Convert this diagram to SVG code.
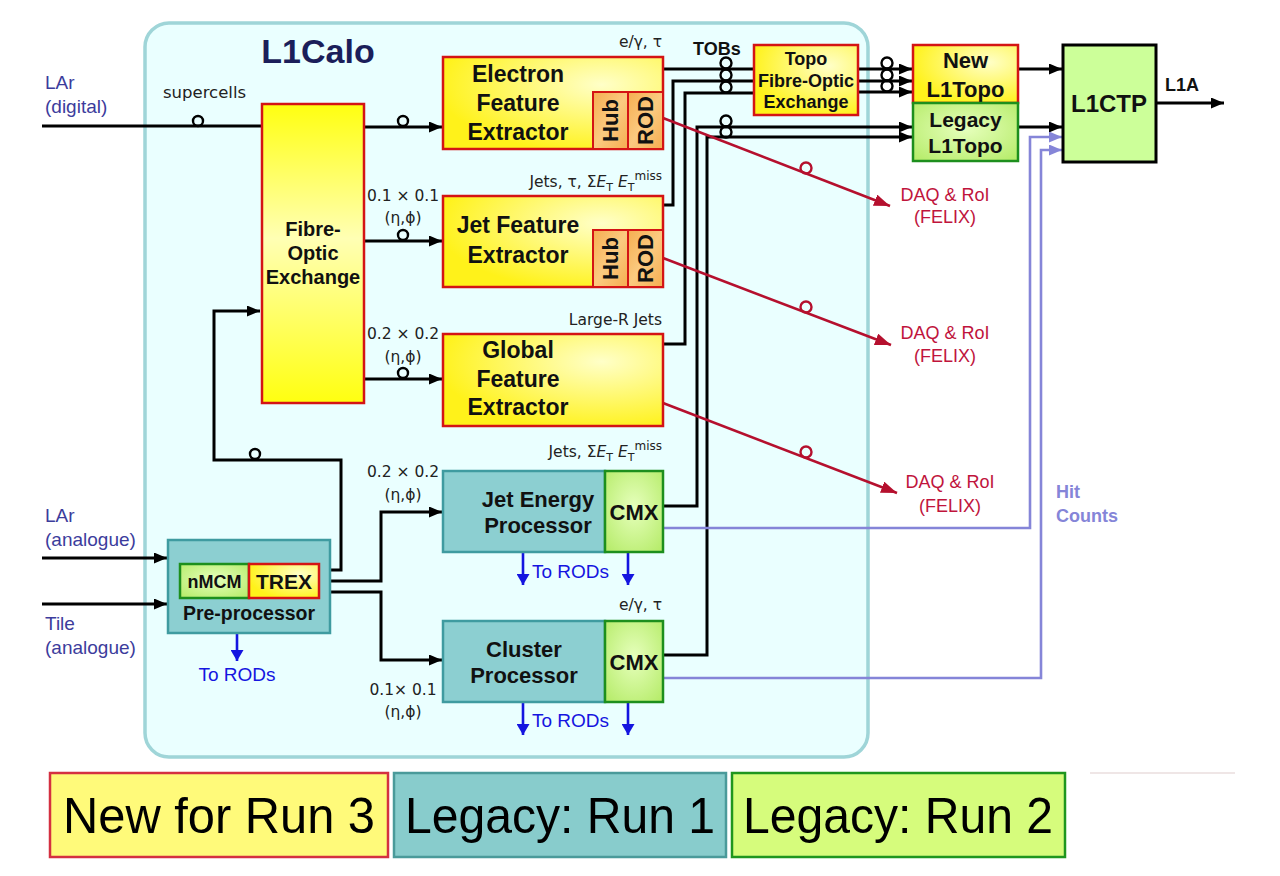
<svg xmlns="http://www.w3.org/2000/svg" width="1280" height="876" viewBox="0 0 1280 876">
<defs>
<style>
.lbl{font-family:"DejaVu Sans",sans-serif;font-size:15.5px;fill:#222}
.inp{font-family:"Liberation Sans",Arial,sans-serif;font-size:19px;fill:#3c3c9c}
.bx{font-family:"Liberation Sans",Arial,sans-serif;font-weight:bold;fill:#111;text-anchor:middle}
.daq{font-family:"Liberation Sans",Arial,sans-serif;font-size:18px;fill:#c0143c;text-anchor:middle}
.rods{font-family:"Liberation Sans",Arial,sans-serif;font-size:19px;fill:#1515e0}
.ln{fill:none;stroke:#000;stroke-width:3}
.red{fill:none;stroke:#b5102e;stroke-width:2.6}
.pur{fill:none;stroke:#8585d8;stroke-width:2.6}
.blu{fill:none;stroke:#1515e0;stroke-width:2.6}
.ck{fill:none;stroke:#000;stroke-width:2.4}
.cr{fill:none;stroke:#b5102e;stroke-width:2.4}
.ybox{stroke:#d41414;stroke-width:2.5}
.tbox{fill:#8ccfd1;stroke:#3f9ba0;stroke-width:2.5}
.gbox{fill:url(#gg);stroke:#1d8f1d;stroke-width:2.5}
.obox{fill:url(#go);stroke:#d41414;stroke-width:2}
.leg{font-family:"Liberation Sans",Arial,sans-serif;font-size:50px;fill:#000;text-anchor:middle}
</style>
<linearGradient id="gfox" x1="0" y1="0" x2="0" y2="1">
<stop offset="0" stop-color="#ffff10"/><stop offset="0.45" stop-color="#ffffb4"/><stop offset="1" stop-color="#ffff10"/>
</linearGradient>
<radialGradient id="gy" cx="0.72" cy="0.3" r="0.75">
<stop offset="0" stop-color="#ffffc8"/><stop offset="1" stop-color="#fff21a"/>
</radialGradient>
<radialGradient id="gg" cx="0.5" cy="0.45" r="0.7">
<stop offset="0" stop-color="#e6ffbc"/><stop offset="1" stop-color="#b6ec6a"/>
</radialGradient>
<linearGradient id="go" x1="0" y1="0" x2="1" y2="1">
<stop offset="0" stop-color="#f5ad50"/><stop offset="0.5" stop-color="#fbca80"/><stop offset="1" stop-color="#f5ad50"/>
</linearGradient>
<marker id="ak" markerWidth="13" markerHeight="11" refX="13" refY="5.5" orient="auto" markerUnits="userSpaceOnUse"><path d="M0,0 L13,5.5 L0,11 z" fill="#000"/></marker>
<marker id="ar" markerWidth="16" markerHeight="12" refX="16" refY="6" orient="auto" markerUnits="userSpaceOnUse"><path d="M0,0 L16,6 L0,12 z" fill="#b5102e"/></marker>
<marker id="ap" markerWidth="13" markerHeight="11" refX="13" refY="5.5" orient="auto" markerUnits="userSpaceOnUse"><path d="M0,0 L13,5.5 L0,11 z" fill="#8585d8"/></marker>
<marker id="ab" markerWidth="11" markerHeight="13" refX="11" refY="6.5" orient="auto" markerUnits="userSpaceOnUse"><path d="M0,0 L11,6.5 L0,13 z" fill="#1515e0"/></marker>
</defs>
<rect width="1280" height="876" fill="#fff"/>

<g id="l1calo">
<rect x="145" y="23" width="723" height="734" rx="24" fill="#eaffff" stroke="#9fd5d8" stroke-width="3.5"/>
<text x="318" y="63" class="bx" style="font-size:34px;fill:#1b1e5a">L1Calo</text>
</g>

<g id="inputs">
<text x="45" y="89" class="inp">LAr</text>
<text x="45" y="113" class="inp">(digital)</text>
<text x="45" y="522" class="inp">LAr</text>
<text x="45" y="546" class="inp">(analogue)</text>
<text x="45" y="630" class="inp">Tile</text>
<text x="45" y="654" class="inp">(analogue)</text>
</g>

<g id="labels">
<text x="163" y="98" class="lbl" style="font-size:16.5px">supercells</text>
<text x="403" y="201" class="lbl" text-anchor="middle">0.1 × 0.1</text>
<text x="403" y="223" class="lbl" text-anchor="middle">(η,ϕ)</text>
<text x="403" y="339" class="lbl" text-anchor="middle">0.2 × 0.2</text>
<text x="403" y="362" class="lbl" text-anchor="middle">(η,ϕ)</text>
<text x="403" y="477" class="lbl" text-anchor="middle">0.2 × 0.2</text>
<text x="403" y="500" class="lbl" text-anchor="middle">(η,ϕ)</text>
<text x="403" y="695" class="lbl" text-anchor="middle">0.1× 0.1</text>
<text x="403" y="717" class="lbl" text-anchor="middle">(η,ϕ)</text>
<text x="662" y="47" class="lbl" text-anchor="end">e/γ, τ</text>
<text x="662" y="187" class="lbl" text-anchor="end">Jets, τ, Σ<tspan font-style="italic">E</tspan><tspan font-size="11" dy="4">T</tspan><tspan dy="-4"> </tspan><tspan font-style="italic">E</tspan><tspan font-size="11" dy="4">T</tspan><tspan font-size="12" dy="-11">miss</tspan></text>
<text x="662" y="325" class="lbl" text-anchor="end">Large-R Jets</text>
<text x="662" y="457" class="lbl" text-anchor="end">Jets, Σ<tspan font-style="italic">E</tspan><tspan font-size="11" dy="4">T</tspan><tspan dy="-4"> </tspan><tspan font-style="italic">E</tspan><tspan font-size="11" dy="4">T</tspan><tspan font-size="12" dy="-11">miss</tspan></text>
<text x="662" y="610" class="lbl" text-anchor="end">e/γ, τ</text>
<text x="693" y="55" class="bx" style="font-size:18px;text-anchor:start">TOBs</text>
<text x="1165" y="91" class="bx" style="font-size:18px;text-anchor:start">L1A</text>
<text x="1056" y="498" class="bx" style="font-size:18px;text-anchor:start;fill:#8585d8">Hit</text>
<text x="1056" y="522" class="bx" style="font-size:18px;text-anchor:start;fill:#8585d8">Counts</text>
<text x="945" y="201" class="daq">DAQ &amp; RoI</text>
<text x="945" y="223" class="daq">(FELIX)</text>
<text x="945" y="339" class="daq">DAQ &amp; RoI</text>
<text x="945" y="362" class="daq">(FELIX)</text>
<text x="950" y="488" class="daq">DAQ &amp; RoI</text>
<text x="950" y="512" class="daq">(FELIX)</text>
<text x="237" y="681" class="rods" text-anchor="middle">To RODs</text>
<text x="532" y="578" class="rods">To RODs</text>
<text x="532" y="727" class="rods">To RODs</text>
</g>

<g id="connectors">
<!-- inputs -->
<path class="ln" d="M42,126 H262"/>
<circle class="ck" cx="198" cy="121" r="5"/>
<path class="ln" d="M42,558 H167" marker-end="url(#ak)"/>
<path class="ln" d="M42,604 H167" marker-end="url(#ak)"/>
<!-- FOX to FEs -->
<path class="ln" d="M364,127 H442" marker-end="url(#ak)"/>
<circle class="ck" cx="403" cy="121" r="5"/>
<path class="ln" d="M364,241 H442" marker-end="url(#ak)"/>
<circle class="ck" cx="403" cy="235" r="5"/>
<path class="ln" d="M364,379 H442" marker-end="url(#ak)"/>
<circle class="ck" cx="403" cy="373" r="5"/>
<!-- TREX outputs -->
<path class="ln" d="M319,570 H341 V460 H214 V311 H260" marker-end="url(#ak)"/>
<circle class="ck" cx="255" cy="454" r="5"/>
<path class="ln" d="M319,581 H381 V512 H442" marker-end="url(#ak)"/>
<path class="ln" d="M319,592 H381 V660 H442" marker-end="url(#ak)"/>
<!-- TOBs -->
<path class="ln" d="M663,69 H754"/>
<path class="ln" d="M663,205 H673 V81 H754"/>
<path class="ln" d="M663,344 H685 V93 H754"/>
<path class="ln" d="M663,506 H697 V127 H912" marker-end="url(#ak)"/>
<path class="ln" d="M663,655 H707 V137 H912" marker-end="url(#ak)"/>
<circle class="ck" cx="726" cy="63" r="5.5"/>
<circle class="ck" cx="726" cy="75" r="5.5"/>
<circle class="ck" cx="726" cy="87" r="5.5"/>
<circle class="ck" cx="726" cy="121" r="5.5"/>
<circle class="ck" cx="726" cy="132" r="5.5"/>
<path class="ln" d="M858,69 H912" marker-end="url(#ak)"/>
<path class="ln" d="M858,81 H912" marker-end="url(#ak)"/>
<path class="ln" d="M858,92 H912" marker-end="url(#ak)"/>
<circle class="ck" cx="887" cy="63" r="5.5"/>
<circle class="ck" cx="887" cy="75" r="5.5"/>
<circle class="ck" cx="887" cy="86" r="5.5"/>
<path class="ln" d="M1018,69 H1062" marker-end="url(#ak)"/>
<path class="ln" d="M1018,127 H1062" marker-end="url(#ak)"/>
<path class="ln" d="M1156,103 H1224" marker-end="url(#ak)"/>
<!-- hit counts -->
<path class="pur" d="M663,528 H1030 V137 H1062" marker-end="url(#ap)"/>
<path class="pur" d="M663,678 H1041 V150 H1062" marker-end="url(#ap)"/>
<!-- DAQ -->
<path class="red" d="M663,118 L890,206" marker-end="url(#ar)"/>
<circle class="cr" cx="806" cy="168" r="5.5"/>
<path class="red" d="M663,258 L891,345" marker-end="url(#ar)"/>
<circle class="cr" cx="806" cy="307" r="5.5"/>
<path class="red" d="M663,403 L897,493" marker-end="url(#ar)"/>
<circle class="cr" cx="806" cy="452" r="5.5"/>
<!-- to RODs -->
<path class="blu" d="M237,628 V661" marker-end="url(#ab)"/>
<path class="blu" d="M523,552 V585" marker-end="url(#ab)"/>
<path class="blu" d="M628,552 V585" marker-end="url(#ab)"/>
<path class="blu" d="M523,702 V735" marker-end="url(#ab)"/>
<path class="blu" d="M628,702 V735" marker-end="url(#ab)"/>
</g>

<g id="fox">
<rect x="262" y="104" width="102" height="299" fill="url(#gfox)" class="ybox"/>
<text x="313" y="236" class="bx" style="font-size:20px">Fibre-</text>
<text x="313" y="260" class="bx" style="font-size:20px">Optic</text>
<text x="313" y="284" class="bx" style="font-size:20px">Exchange</text>
</g>

<g id="efex">
<rect x="443" y="57" width="220" height="92" fill="url(#gy)" class="ybox"/>
<text x="518" y="82" class="bx" style="font-size:23px">Electron</text>
<text x="518" y="111" class="bx" style="font-size:23px">Feature</text>
<text x="518" y="140" class="bx" style="font-size:23px">Extractor</text>
<rect x="593" y="92" width="35" height="57" class="obox"/>
<rect x="628" y="92" width="35" height="57" class="obox"/>
<text transform="translate(618,120.5) rotate(-90)" class="bx" style="font-size:22px">Hub</text>
<text transform="translate(653,120.5) rotate(-90)" class="bx" style="font-size:22px">ROD</text>
</g>

<g id="jfex">
<rect x="443" y="196" width="220" height="91" fill="url(#gy)" class="ybox"/>
<text x="518" y="233" class="bx" style="font-size:23px">Jet Feature</text>
<text x="518" y="263" class="bx" style="font-size:23px">Extractor</text>
<rect x="593" y="230" width="35" height="57" class="obox"/>
<rect x="628" y="230" width="35" height="57" class="obox"/>
<text transform="translate(618,258.5) rotate(-90)" class="bx" style="font-size:22px">Hub</text>
<text transform="translate(653,258.5) rotate(-90)" class="bx" style="font-size:22px">ROD</text>
</g>

<g id="gfex">
<rect x="443" y="334" width="220" height="92" fill="url(#gy)" class="ybox"/>
<text x="518" y="358" class="bx" style="font-size:23px">Global</text>
<text x="518" y="387" class="bx" style="font-size:23px">Feature</text>
<text x="518" y="415" class="bx" style="font-size:23px">Extractor</text>
</g>

<g id="jep">
<rect x="443" y="471" width="162" height="81" class="tbox"/>
<rect x="605" y="471" width="58" height="81" class="gbox"/>
<text x="538" y="507" class="bx" style="font-size:22px">Jet Energy</text>
<text x="538" y="533" class="bx" style="font-size:22px">Processor</text>
<text x="634" y="520" class="bx" style="font-size:22px">CMX</text>
</g>

<g id="cp">
<rect x="443" y="621" width="162" height="81" class="tbox"/>
<rect x="605" y="621" width="58" height="81" class="gbox"/>
<text x="524" y="657" class="bx" style="font-size:22px">Cluster</text>
<text x="524" y="683" class="bx" style="font-size:22px">Processor</text>
<text x="634" y="670" class="bx" style="font-size:22px">CMX</text>
</g>

<g id="ppr">
<rect x="168" y="540" width="162" height="93" class="tbox"/>
<rect x="180" y="564" width="69" height="34" class="gbox"/>
<rect x="249" y="564" width="70" height="34" fill="url(#gy)" class="ybox"/>
<text x="214.5" y="588" class="bx" style="font-size:18px">nMCM</text>
<text x="284" y="589" class="bx" style="font-size:21px">TREX</text>
<text x="249" y="620" class="bx" style="font-size:19.5px">Pre-processor</text>
</g>

<g id="topofox">
<rect x="754" y="45" width="104" height="70" fill="url(#gy)" class="ybox"/>
<text x="806" y="65" class="bx" style="font-size:18px">Topo</text>
<text x="806" y="87" class="bx" style="font-size:18px">Fibre-Optic</text>
<text x="806" y="108" class="bx" style="font-size:18px">Exchange</text>
</g>

<g id="newtopo">
<rect x="913" y="45" width="105" height="58" fill="url(#gy)" class="ybox"/>
<text x="965.5" y="68" class="bx" style="font-size:22px">New</text>
<text x="965.5" y="97" class="bx" style="font-size:22px">L1Topo</text>
</g>

<g id="legacytopo">
<rect x="913" y="103" width="105" height="58" class="gbox"/>
<text x="965.5" y="127" class="bx" style="font-size:21px">Legacy</text>
<text x="965.5" y="153" class="bx" style="font-size:21px">L1Topo</text>
</g>

<g id="l1ctp">
<rect x="1063" y="45" width="93" height="117" fill="#ccff99" stroke="#000" stroke-width="3"/>
<text x="1109" y="112" class="bx" style="font-size:24px">L1CTP</text>
</g>

<g id="legend">
<rect x="50" y="773" width="338" height="84" fill="#fffa7a" stroke="#d43040" stroke-width="2.5"/>
<text x="219" y="833" class="leg" textLength="312" lengthAdjust="spacingAndGlyphs">New for Run 3</text>
<rect x="394" y="773" width="332" height="84" fill="#88cccc" stroke="#4a9a9a" stroke-width="2.5"/>
<text x="560" y="833" class="leg" textLength="310" lengthAdjust="spacingAndGlyphs">Legacy: Run 1</text>
<rect x="732" y="773" width="333" height="84" fill="#d6fc7c" stroke="#1e961e" stroke-width="2.5"/>
<text x="898" y="833" class="leg" textLength="310" lengthAdjust="spacingAndGlyphs">Legacy: Run 2</text>
<path d="M1090,773 H1235" stroke="#eadede" stroke-width="1.5"/>
</g>
</svg>
